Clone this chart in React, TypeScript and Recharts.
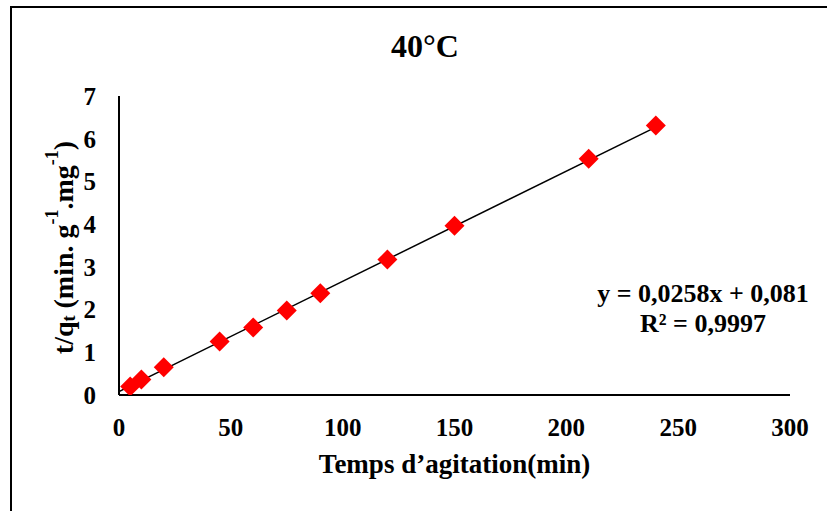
import React from 'react';
import { ComposedChart, Scatter, Line, XAxis, YAxis, Label } from 'recharts';

// Pseudo-second-order kinetics at 40 °C: t/qt versus agitation time
const agitationTime = [5, 10, 20, 45, 60, 75, 90, 120, 150, 210, 240];
const tOverQt = [0.2, 0.36, 0.65, 1.25, 1.58, 1.98, 2.38, 3.17, 3.96, 5.53, 6.31];

const xTicks = [0, 50, 100, 150, 200, 250, 300];
const yTicks = [0, 1, 2, 3, 4, 5, 6, 7];

// Linear fit as printed on the chart
const slope = 0.0258;
const intercept = 0.081;
const slopeText = '0,0258';
const interceptText = '0,081';
const rSquaredText = '0,9997';
const trendStart = 0;
const trendEnd = 240;

const title = '40°C';
const xTitle = 'Temps d’agitation(min)';

const FONT = '"Liberation Serif", "Times New Roman", serif';

const points = agitationTime.map((t, i) => ({ t, q: tOverQt[i] }));
const trend = [trendStart, trendEnd].map((t) => ({ t, q: slope * t + intercept }));

const Diamond = (props: any) => {
  const { cx, cy } = props;
  const r = 10;
  return (
    <path
      d={`M${cx},${cy - r}L${cx + r},${cy}L${cx},${cy + r}L${cx - r},${cy}Z`}
      fill="#FF0000"
    />
  );
};

const renderXTitle = (props: any) => {
  const { viewBox } = props;
  return (
    <text
      x={viewBox.x + viewBox.width / 2}
      y={viewBox.y + 78}
      textAnchor="middle"
      fontFamily={FONT}
      fontWeight="bold"
      fontSize={27}
      fill="#000"
    >
      {xTitle}
    </text>
  );
};

const renderYTitle = (props: any) => {
  const { viewBox } = props;
  const cx = viewBox.x + 4;
  const cy = viewBox.y + viewBox.height / 2 + 2;
  return (
    <text
      x={cx}
      y={cy}
      transform={`rotate(-90, ${cx}, ${cy})`}
      textAnchor="middle"
      dominantBaseline="central"
      fontFamily={FONT}
      fontWeight="bold"
      fontSize={28}
      fill="#000"
    >
      <tspan>t/q</tspan>
      <tspan fontSize={18} dy={6}>t</tspan>
      <tspan dy={-6}> (min. g</tspan>
      <tspan fontSize={18} dy={-11}>-1</tspan>
      <tspan dy={11}>.mg</tspan>
      <tspan fontSize={18} dy={-11}>-1</tspan>
      <tspan dy={11}>)</tspan>
    </text>
  );
};

const tickStyle = {
  fill: '#000',
  fontSize: 25,
  fontWeight: 'bold',
  fontFamily: FONT,
};

export default function App() {
  return (
    <div
      style={{
        position: 'absolute',
        left: 0,
        top: 0,
        width: 827,
        height: 511,
        background: '#fff',
      }}
    >
      <div style={{ position: 'absolute', left: 10, top: 6, width: 2, height: 505, background: '#000' }} />
      <div style={{ position: 'absolute', left: 10, top: 6, width: 817, height: 2, background: '#000' }} />
      <ComposedChart
        width={827}
        height={511}
        margin={{ top: 96, right: 37, bottom: 76, left: 59 }}
      >
        <XAxis
          type="number"
          dataKey="t"
          domain={[0, 300]}
          ticks={xTicks}
          tickLine={false}
          tickSize={0}
          tickMargin={23}
          height={40}
          axisLine={{ stroke: '#000', strokeWidth: 2 }}
          tick={tickStyle}
          allowDataOverflow
        >
          <Label content={renderXTitle} />
        </XAxis>
        <YAxis
          type="number"
          dataKey="q"
          domain={[0, 7]}
          ticks={yTicks}
          tickLine={false}
          tickSize={0}
          tickMargin={23}
          width={60}
          axisLine={{ stroke: '#000', strokeWidth: 2 }}
          tick={tickStyle}
          allowDataOverflow
        >
          <Label content={renderYTitle} />
        </YAxis>
        <Scatter data={points} dataKey="q" shape={Diamond} isAnimationActive={false} />
        <Line
          data={trend}
          dataKey="q"
          type="linear"
          stroke="#000"
          strokeWidth={1.5}
          dot={false}
          activeDot={false}
          isAnimationActive={false}
        />
        <text
          x={425}
          y={57}
          textAnchor="middle"
          fontFamily={FONT}
          fontWeight="bold"
          fontSize={32}
          fill="#000"
        >
          {title}
        </text>
        <text
          x={703}
          y={302}
          textAnchor="middle"
          fontFamily={FONT}
          fontWeight="bold"
          fontSize={26}
          fill="#000"
        >
          {`y = ${slopeText}x + ${interceptText}`}
        </text>
        <text
          x={703}
          y={332}
          textAnchor="middle"
          fontFamily={FONT}
          fontWeight="bold"
          fontSize={26}
          fill="#000"
        >
          {`R² = ${rSquaredText}`}
        </text>
      </ComposedChart>
    </div>
  );
}
